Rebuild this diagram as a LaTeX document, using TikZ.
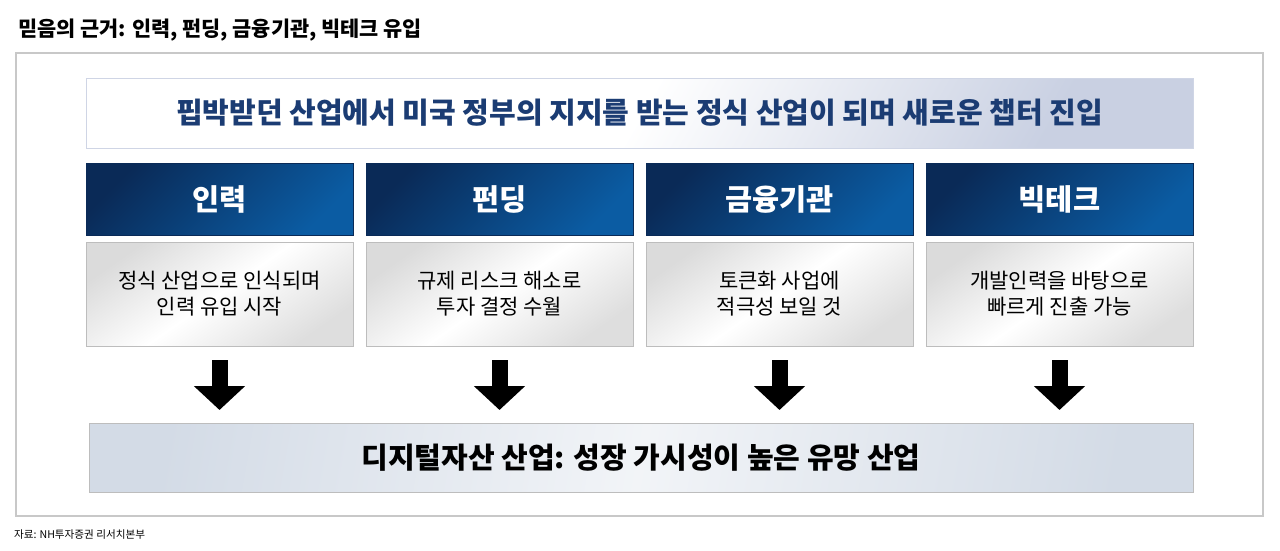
\documentclass[tikz,border=0pt]{standalone}
\usepackage{fontspec}
\setmainfont{Noto Sans CJK KR}
\usetikzlibrary{arrows.meta}
\definecolor{navytxt}{HTML}{1B3C73}
\definecolor{navydark}{HTML}{0A2A57}
\definecolor{navylight}{HTML}{0B5CA3}
\definecolor{framegray}{HTML}{C8C8C8}
\definecolor{boxgray}{HTML}{BDBDBD}
\definecolor{bluegray}{HTML}{D3DBE6}
\definecolor{bannerblue}{HTML}{C3CBDF}
\newcommand{\pillarfig}[4]{%
  \node[header]  (#1 head) at (#2,199) {#3};
  \node[textbox] (#1 txt)  at (#2,294) {#4};
  \draw[bigarrow] (#1 txt.south) -- (#1 txt.south |- goal.north);
}
\begin{document}
\begin{tikzpicture}[x=1pt, y=-1pt,
          every node/.style = {inner sep = 0pt,
                               outer sep = 0pt},
          header/.style     = {draw          = navydark,
                               left color    = navydark,
                               right color   = navylight,
                               shading angle = 45,
                               minimum width  = 267pt,
                               minimum height = 72pt,
                               text = white,
                               font = \fontsize{29.5}{33}\selectfont\bfseries},
          textbox/.style    = {draw          = boxgray,
                               left color    = black!14,
                               right color   = black!13,
                               middle color  = white,
                               shading angle = 35,
                               minimum width  = 267pt,
                               minimum height = 104pt,
                               align = center,
                               font = \fontsize{21}{26}\selectfont},
          bigarrow/.style   = {line width = 16pt,
                               shorten <= 14pt,
                               shorten >= 13pt,
                               -{Triangle[length=24pt, width=50pt]}}]
  \useasboundingbox (0,0) rectangle (1280,550);
  \draw[framegray, line width=1.2pt] (16,53) rectangle (1263,516);

  \node[anchor = west, font = \fontsize{20.8}{24}\selectfont\bfseries]
        (title) at (18,30) {믿음의 근거: 인력, 펀딩, 금융기관, 빅테크 유입};
  \node[anchor = west, font = \fontsize{10.6}{12}\selectfont]
        (source) at (14,535) {자료: NH투자증권 리서치본부};

  \node[draw          = bannerblue!80,
        left color    = white,
        right color   = bannerblue!90,
        middle color  = white,
        shading angle = 60,
        minimum width  = 1107pt,
        minimum height = 70pt,
        text = navytxt,
        font = \fontsize{29}{33}\selectfont\bfseries]
        (banner) at (639.5,113) {핍박받던 산업에서 미국 정부의 지지를 받는 정식 산업이 되며 새로운 챕터 진입};

  \node[draw          = boxgray,
        left color    = bluegray,
        right color   = bluegray,
        middle color  = white!70!bluegray,
        shading angle = 80,
        minimum width  = 1104pt,
        minimum height = 69pt,
        font = \fontsize{29}{33}\selectfont\bfseries]
        (goal) at (641,457.5) {디지털자산 산업: 성장 가시성이 높은 유망 산업};

  \pillarfig{talent}{219.5}{인력}{정식 산업으로 인식되며\\인력 유입 시작}
  \pillarfig{fund}{499.5}{펀딩}{규제 리스크 해소로\\투자 결정 수월}
  \pillarfig{bank}{779.5}{금융기관}{토큰화 사업에\\적극성 보일 것}
  \pillarfig{tech}{1059.5}{빅테크}{개발인력을 바탕으로\\빠르게 진출 가능}
\end{tikzpicture}
\end{document}
